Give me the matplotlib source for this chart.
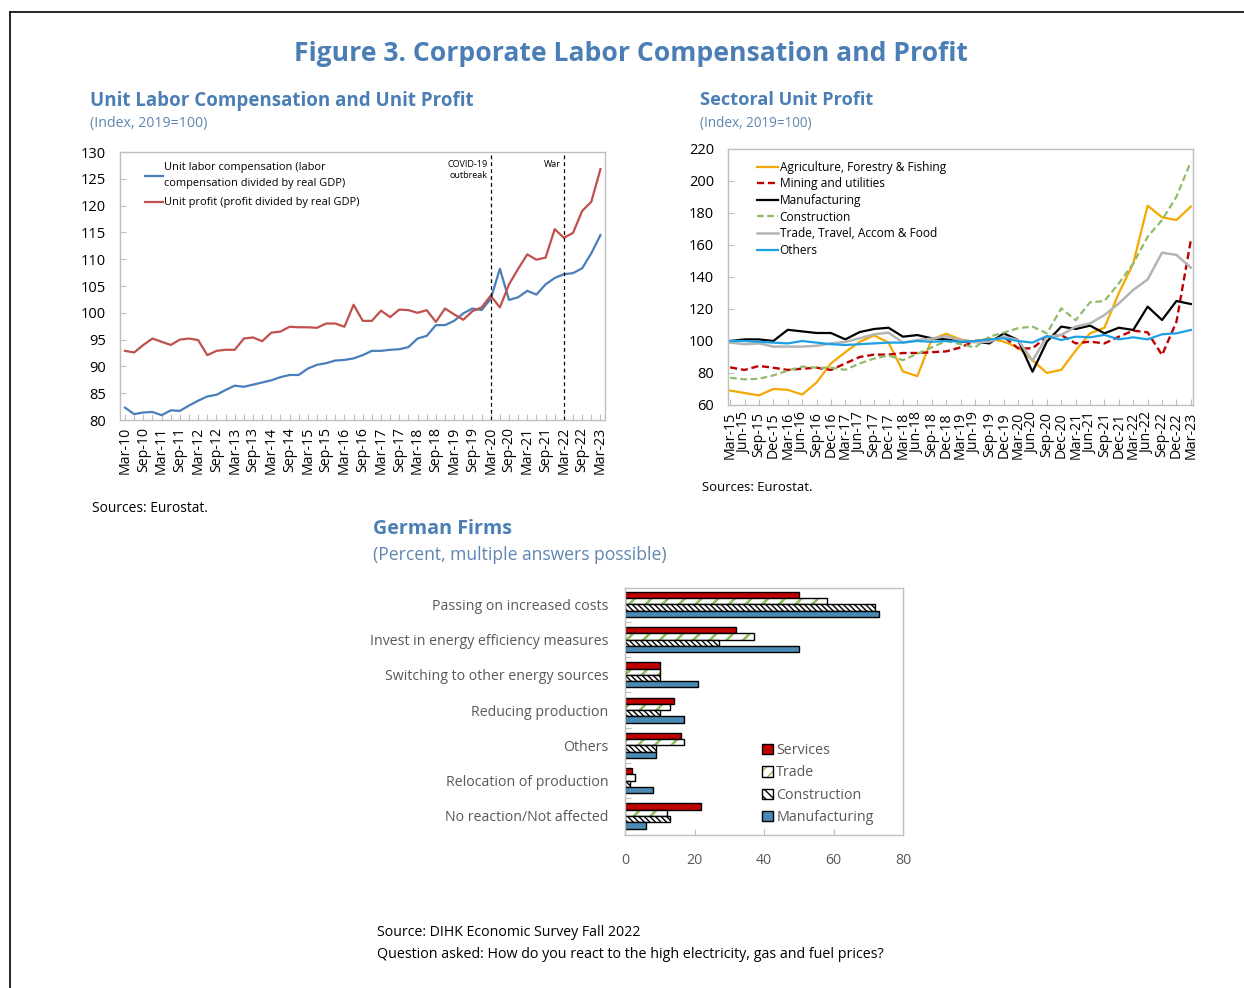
import matplotlib
matplotlib.use("Agg")
import matplotlib.pyplot as plt
from matplotlib.patches import Patch
from matplotlib.lines import Line2D

plt.rcParams['font.family'] = ['Open Sans', 'DejaVu Sans']

# ---------------- data ----------------
years_left = range(10, 24)
quarters_left = [f"{m}-{y:02d}" for y in years_left for m in ("Mar", "Jun", "Sep", "Dec")][:53]
unit_labor = [82.3, 81.1, 81.4, 81.5, 80.9, 81.8, 81.7, 82.7, 83.6, 84.4, 84.7, 85.6, 86.4, 86.2,
              86.6, 87.0, 87.4, 88.0, 88.4, 88.4, 89.6, 90.3, 90.6, 91.1, 91.2, 91.5, 92.1, 92.9,
              92.9, 93.1, 93.2, 93.6, 95.2, 95.7, 97.7, 97.7, 98.5, 99.9, 100.8, 100.5, 102.6,
              108.2, 102.4, 102.9, 104.1, 103.4, 105.3, 106.5, 107.2, 107.4, 108.3, 111.1, 114.5]
unit_profit = [92.9, 92.6, 94.0, 95.2, 94.6, 94.0, 95.0, 95.2, 94.9, 92.1, 92.9, 93.1, 93.1, 95.2,
               95.4, 94.7, 96.3, 96.5, 97.4, 97.3, 97.3, 97.2, 98.0, 98.0, 97.4, 101.5, 98.5, 98.5,
               100.4, 99.2, 100.6, 100.5, 100.0, 100.5, 98.3, 100.8, 99.7, 98.7, 100.3, 101.0, 103.2,
               101.0, 105.3, 108.2, 110.9, 109.9, 110.3, 115.6, 114.0, 114.9, 119.0, 120.7, 126.8]
events = [("Mar-20", "COVID-19\noutbreak"), ("Mar-22", "War")]

years_right = range(15, 24)
quarters_right = [f"{m}-{y:02d}" for y in years_right for m in ("Mar", "Jun", "Sep", "Dec")][:33]
agriculture = [69, 67.5, 66, 70, 69.5, 66.5, 74, 86, 93, 99.5, 103.5, 99, 81, 78, 101, 104.5,
               101, 99.6, 101.7, 99.6, 96, 88, 80, 82, 94, 104.8, 108.3, 130, 148.5, 184.6, 177.3, 175.6, 184]
mining = [83.5, 81.9, 84.4, 83.3, 81.9, 82.7, 83.3, 81.9, 86, 90, 91.5, 91.5, 92.5, 92.5, 93, 93.5,
          96, 100, 100.6, 102.7, 95.4, 95.4, 102.7, 103.7, 98.5, 99.6, 98.5, 102.7, 106.5, 105.4, 91.2, 112, 163]
manufacturing_idx = [100, 101, 101, 100, 107, 106, 105, 105, 101, 105.6, 107.5, 108.3, 102.7, 103.7, 101.7, 101,
                     99.6, 99.6, 98.5, 104.8, 100.6, 80.8, 99.6, 109, 107.5, 109.6, 104.8, 108.3, 106.9,
                     121.5, 113.1, 125, 123.1]
construction_idx = [77, 76, 76.4, 78.5, 81.5, 84, 83.3, 83.3, 82, 86, 89, 91, 88, 92, 96, 100,
                    98, 96, 102.7, 105.2, 108, 109, 104.8, 120.4, 113, 124.2, 125, 136, 148.5, 165.2,
                    175.6, 190.2, 212]
trade_idx = [99, 98, 98.5, 96.5, 96.5, 96.5, 97, 98.5, 99.4, 101.7, 104.2, 105.2, 99, 100.6, 101.5, 103,
             100.6, 99.2, 99.6, 102.7, 100.6, 87.7, 102.7, 103.8, 109, 111, 116.2, 123.5, 131.9, 138.5,
             155.2, 153.8, 145.8]
others_idx = [100, 100, 99.5, 99, 98.5, 100, 99, 98, 97.5, 98, 98.5, 99, 99, 100, 99.5, 100,
              99.6, 100, 101, 101.7, 100, 99, 103.1, 100.6, 102.7, 102.3, 103.8, 101, 102.3, 101,
              104.2, 104.8, 106.9]

bar_categories = ["Passing on increased costs", "Invest in energy efficiency measures",
                  "Switching to other energy sources", "Reducing production", "Others",
                  "Relocation of production", "No reaction/Not affected"]
bar_services = [50, 32, 10, 14, 16, 2, 22]
bar_trade = [58, 37, 10, 13, 17, 3, 12]
bar_construction = [72, 27, 10, 10, 9, 1.5, 13]
bar_manufacturing = [73, 50, 21, 17, 9, 8, 6]

# ---------------- figure ----------------
W, H = 1244, 988
fig = plt.figure(figsize=(W / 100, H / 100), dpi=100)
fig.patch.set_facecolor('white')

def ax_rect(x0, y0, x1, y1):
    return [x0 / W, 1 - y1 / H, (x1 - x0) / W, (y1 - y0) / H]

renderer = fig.canvas.get_renderer()

def place(x, y, s, width=None, size=10, ha='left', va='center', **kw):
    t = fig.text(x / W, 1 - y / H, s, fontsize=size, ha=ha, va=va, **kw)
    if width:
        w = t.get_window_extent(renderer).width
        t.set_fontsize(size * width / w)
    return t

HEAD = '#4A7EB4'
SUB = '#5F86B0'
FRAME = '#BFBFBF'

# border lines
fig.add_artist(Line2D([10 / W, 10 / W], [0, 1 - 12 / H], color='black', lw=1.2))
fig.add_artist(Line2D([10 / W, 1], [1 - 12 / H, 1 - 12 / H], color='black', lw=1.2))

place(631, 54, "Figure 3. Corporate Labor Compensation and Profit", width=674, size=18,
      ha='center', color=HEAD, fontweight='bold')
place(90, 101, "Unit Labor Compensation and Unit Profit", width=380, size=13, color=HEAD, fontweight='bold')
place(90, 124, "(Index, 2019=100)", width=117, size=10, color=SUB)
place(700, 100, "Sectoral Unit Profit", width=171, size=13, color=HEAD, fontweight='bold')
place(700, 123, "(Index, 2019=100)", width=112, size=10, color=SUB)
place(92, 508, "Sources: Eurostat.", width=115, size=10, color='black')
place(702, 487, "Sources: Eurostat.", width=110, size=10, color='black')
place(373, 529, "German Firms", width=140, size=14, color=HEAD, fontweight='bold')
place(373, 555, "(Percent, multiple answers possible)", width=292, size=12, color=SUB)
place(377, 933, "Source: DIHK Economic Survey Fall 2022", width=263, size=10, color='black')
place(377, 954, "Question asked: How do you react to the high electricity, gas and fuel prices?",
      width=507, size=10, color='black')

def style_axes(ax):
    for sp in ax.spines.values():
        sp.set_color(FRAME)
        sp.set_linewidth(1)
    ax.tick_params(which='both', direction='in', color=FRAME, length=4, width=0.8)

# ---------------- left chart ----------------
axL = fig.add_axes(ax_rect(120, 152, 605, 420))
style_axes(axL)
xl = list(range(len(quarters_left)))
axL.plot(xl, unit_labor, color='#4A7EBB', lw=1.6,
         label="Unit labor compensation (labor\ncompensation divided by real GDP)")
axL.plot(xl, unit_profit, color='#C0504D', lw=1.6, label="Unit profit (profit divided by real GDP)")
axL.set_xlim(-0.55, 52.5)
axL.set_ylim(80, 130)
axL.set_yticks(range(80, 131, 5))
axL.set_xticks(xl[::2], quarters_left[::2], rotation=90)
axL.set_xticks(xl, minor=True)
axL.tick_params(axis='x', which='both', pad=5, labelsize=10.2)
axL.tick_params(axis='y', labelsize=10.5, pad=10)
for q, lab in events:
    xi = quarters_left.index(q)
    axL.axvline(xi, color='black', lw=0.9, ls=(0, (3, 2.5)))
    axL.text(xi - 0.35, 128.6, lab, ha='right', va='top', fontsize=6.5, linespacing=1.35)
legL = axL.legend(loc='upper left', bbox_to_anchor=(0.0515, 0.962), frameon=False, fontsize=7.9,
                  handlelength=1.65, handletextpad=0.1, borderpad=0, borderaxespad=0, labelspacing=0.8)
for t in legL.get_texts():
    t.set_linespacing(1.55)

# ---------------- right chart ----------------
axR = fig.add_axes(ax_rect(728, 149, 1193, 405))
style_axes(axR)
xr = list(range(len(quarters_right)))
axR.plot(xr, agriculture, color='#F5A800', lw=1.6, label="Agriculture, Forestry & Fishing")
axR.plot(xr, mining, color='#C00000', lw=1.7, ls=(0, (3, 1.6)), label="Mining and utilities")
axR.plot(xr, manufacturing_idx, color='black', lw=1.6, label="Manufacturing")
axR.plot(xr, construction_idx, color='#8FBC6A', lw=1.6, ls=(0, (3, 1.6)), label="Construction")
axR.plot(xr, trade_idx, color='#B4B4B4', lw=1.8, label="Trade, Travel, Accom & Food")
axR.plot(xr, others_idx, color='#1EA0E6', lw=1.6, label="Others")
axR.set_xlim(-0.15, 32.15)
axR.set_ylim(60, 220)
axR.set_yticks(range(60, 221, 20))
axR.set_xticks(xr, quarters_right, rotation=90)
axR.tick_params(axis='x', labelsize=10.2, pad=5)
axR.tick_params(axis='y', labelsize=10.5, pad=10)
legR = axR.legend(loc='upper left', bbox_to_anchor=(0.062, 0.954), frameon=False, fontsize=8.6,
                  handlelength=1.8, handletextpad=0.1, borderpad=0, borderaxespad=0, labelspacing=0.3)

# ---------------- bar chart ----------------
axB = fig.add_axes(ax_rect(625, 588, 903, 835))
style_axes(axB)
yc = list(range(len(bar_categories)))
h = 0.178
off = [-1.5 * h, -0.5 * h, 0.5 * h, 1.5 * h]
ys = [[c + o for c in yc] for o in off]
axB.barh(ys[0], bar_services, height=h, color='#C00000', edgecolor='black', lw=1)
plt.rcParams['hatch.linewidth'] = 1.8
axB.barh(ys[1], bar_trade, height=h, color='white', edgecolor='#8FBC5A', hatch='//', lw=0)
axB.barh(ys[1], bar_trade, height=h, fill=False, edgecolor='black', lw=1)
trade_hatch_handle = Patch(facecolor='white', edgecolor='#8FBC5A', hatch='///', lw=0)
plt.rcParams['hatch.linewidth'] = 1.0
axB.barh(ys[2], bar_construction, height=h, color='white', edgecolor='black', hatch='\\\\\\\\\\\\', lw=0)
axB.barh(ys[2], bar_construction, height=h, fill=False, edgecolor='black', lw=1)
axB.barh(ys[3], bar_manufacturing, height=h, color='#4A8BB5', edgecolor='black', lw=1)
axB.set_xlim(0, 80)
axB.set_ylim(6.54, -0.46)
axB.set_xticks([0, 20, 40, 60, 80])
axB.set_yticks(yc, bar_categories)
axB.set_yticks([c + 0.5 for c in yc[:-1]], minor=True)
axB.tick_params(axis='y', which='major', length=0, pad=12, labelsize=10.2, labelcolor='#595959')
axB.tick_params(axis='y', which='minor', length=4)
axB.tick_params(axis='x', labelsize=10.2, labelcolor='#595959', pad=13)
legend_handles = [
    Patch(facecolor='#C00000', edgecolor='black', lw=1),
    (trade_hatch_handle, Patch(fill=False, edgecolor='black', lw=1)),
    (Patch(facecolor='white', edgecolor='black', hatch='\\\\\\\\', lw=0),
     Patch(fill=False, edgecolor='black', lw=1)),
    Patch(facecolor='#4A8BB5', edgecolor='black', lw=1),
]
legB = axB.legend(legend_handles, ["Services", "Trade", "Construction", "Manufacturing"],
                  loc='upper left', bbox_to_anchor=(0.493, 0.373), frameon=False, fontsize=10.3,
                  handlelength=0.75, handleheight=0.75, handletextpad=0.25, borderpad=0,
                  borderaxespad=0, labelspacing=0.52, labelcolor='#595959')

fig.savefig("out.png", dpi=100, facecolor='white')
